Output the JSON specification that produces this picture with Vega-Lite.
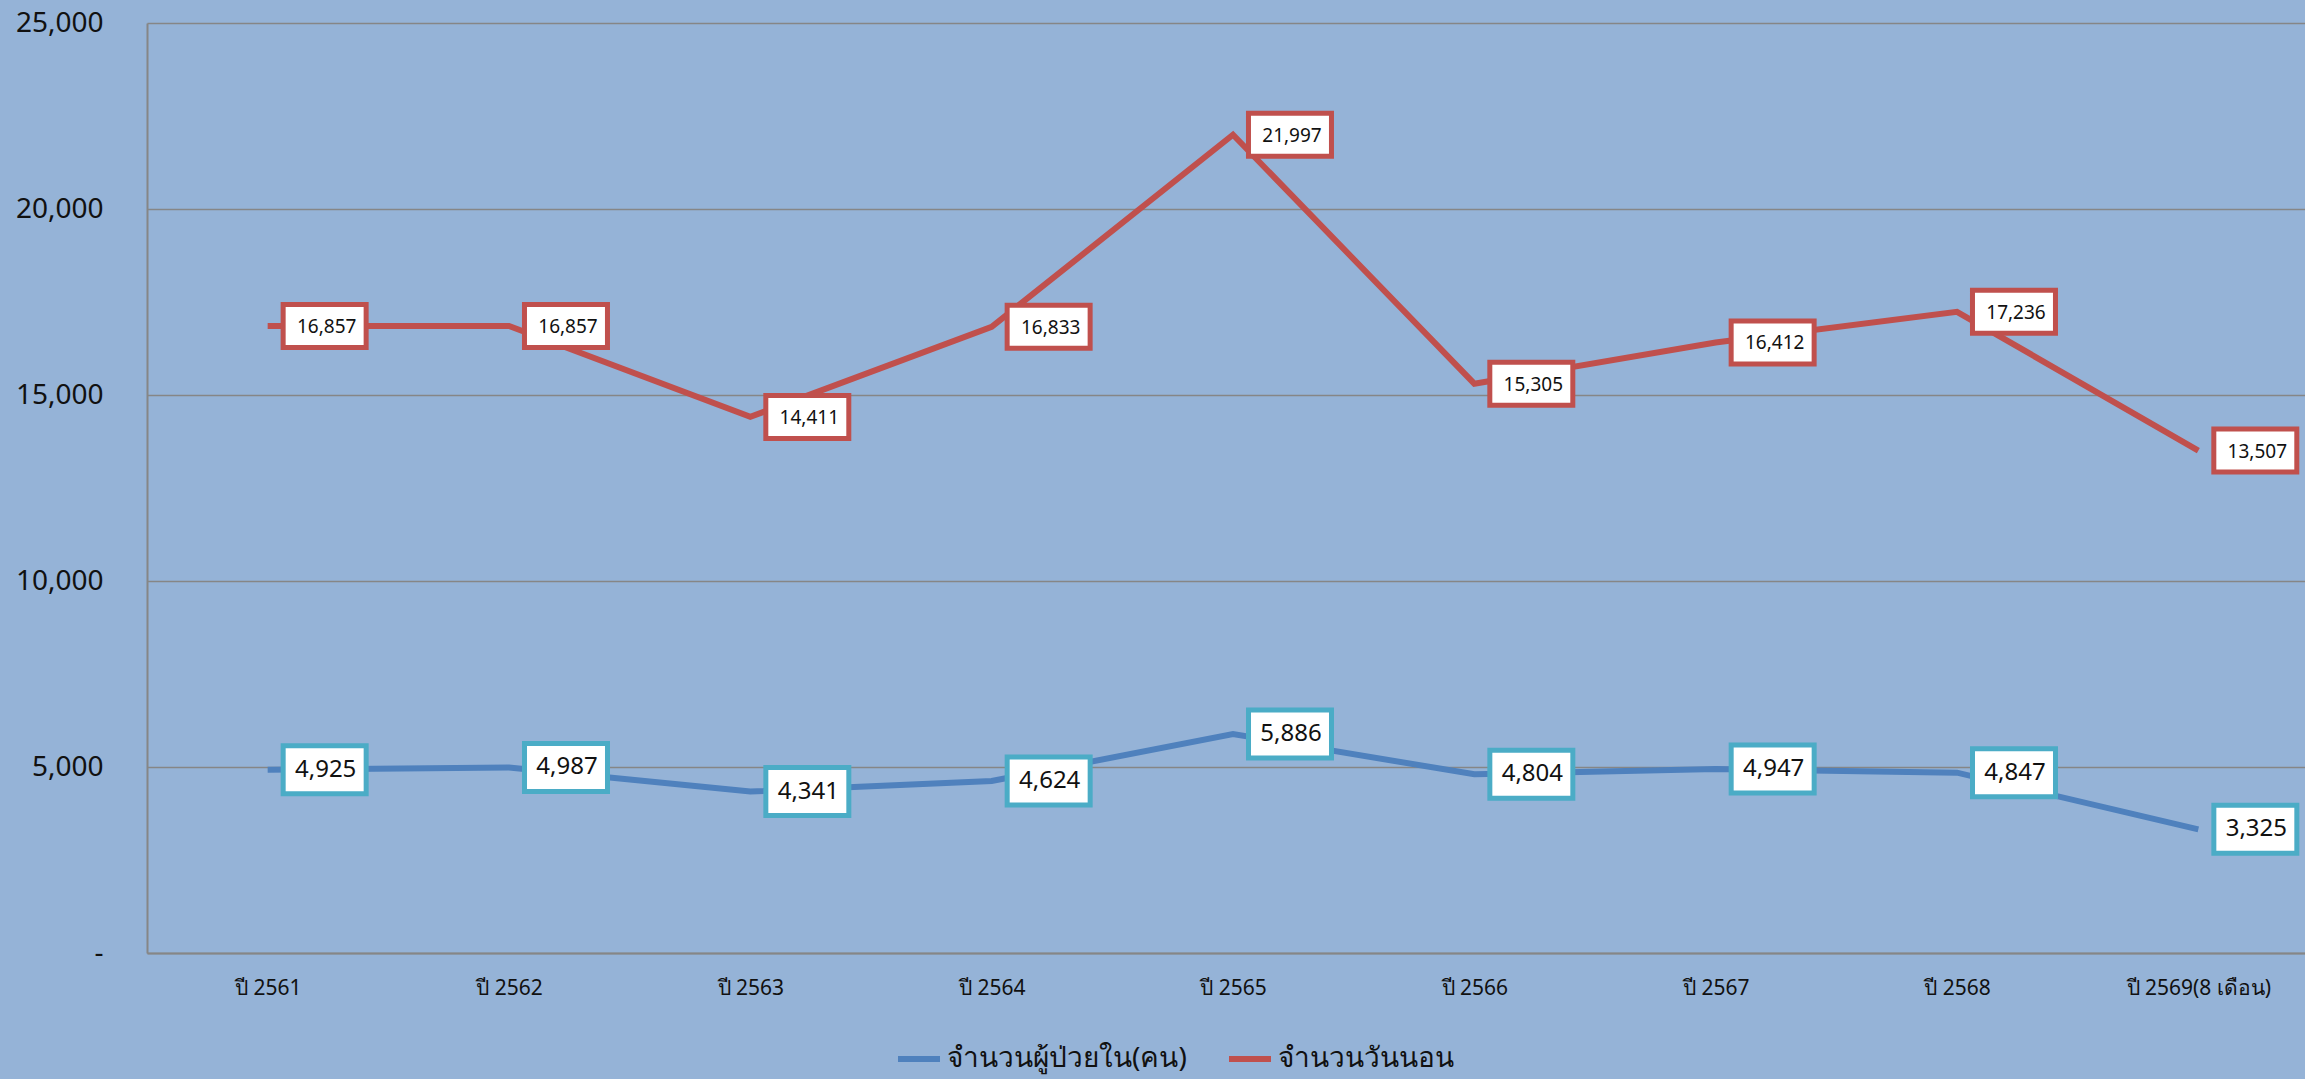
{
  "$schema": "https://vega.github.io/schema/vega-lite/v6.json",
  "autosize": {"type": "none"},
  "padding": {"left": 147, "top": 23, "right": 0, "bottom": 126},
  "width": 2158,
  "height": 930,
  "background": "#95B3D7",
  "config": {
    "view": {"stroke": null},
    "font": "Noto Sans, sans-serif",
    "axis": {"labelColor": "#111111", "domainColor": "#868686", "gridColor": "#868686", "title": null}
  },
  "data": {
    "values": [
      {"year": "ปี 2561", "series": "จำนวนผู้ป่วยใน(คน)", "value": 4925},
      {"year": "ปี 2562", "series": "จำนวนผู้ป่วยใน(คน)", "value": 4987},
      {"year": "ปี 2563", "series": "จำนวนผู้ป่วยใน(คน)", "value": 4341},
      {"year": "ปี 2564", "series": "จำนวนผู้ป่วยใน(คน)", "value": 4624},
      {"year": "ปี 2565", "series": "จำนวนผู้ป่วยใน(คน)", "value": 5886},
      {"year": "ปี 2566", "series": "จำนวนผู้ป่วยใน(คน)", "value": 4804},
      {"year": "ปี 2567", "series": "จำนวนผู้ป่วยใน(คน)", "value": 4947},
      {"year": "ปี 2568", "series": "จำนวนผู้ป่วยใน(คน)", "value": 4847},
      {"year": "ปี 2569(8 เดือน)", "series": "จำนวนผู้ป่วยใน(คน)", "value": 3325},
      {"year": "ปี 2561", "series": "จำนวนวันนอน", "value": 16857},
      {"year": "ปี 2562", "series": "จำนวนวันนอน", "value": 16857},
      {"year": "ปี 2563", "series": "จำนวนวันนอน", "value": 14411},
      {"year": "ปี 2564", "series": "จำนวนวันนอน", "value": 16833},
      {"year": "ปี 2565", "series": "จำนวนวันนอน", "value": 21997},
      {"year": "ปี 2566", "series": "จำนวนวันนอน", "value": 15305},
      {"year": "ปี 2567", "series": "จำนวนวันนอน", "value": 16412},
      {"year": "ปี 2568", "series": "จำนวนวันนอน", "value": 17236},
      {"year": "ปี 2569(8 เดือน)", "series": "จำนวนวันนอน", "value": 13507}
    ]
  },
  "encoding": {
    "x": {
      "field": "year", "type": "nominal", "sort": null,
      "scale": {"type": "point", "padding": 0.5, "range": [0, 2172]},
      "axis": {"labelAngle": 0, "ticks": false, "domainWidth": 2, "labelFontSize": 21, "labelPadding": 24, "grid": false}
    },
    "y": {
      "field": "value", "type": "quantitative",
      "scale": {"domain": [0, 25000], "nice": false},
      "axis": {"values": [0, 5000, 10000, 15000, 20000, 25000], "ticks": false, "domainWidth": 2, "gridWidth": 1.5, "labelFontSize": 28, "labelPadding": 44,
        "labelExpr": "datum.value === 0 ? '-\u00a0\u00a0\u00a0' : format(datum.value, ',')"}
    }
  },
  "layer": [
    {
      "mark": {"type": "line", "strokeWidth": 6},
      "encoding": {
        "color": {
          "field": "series", "type": "nominal",
          "scale": {"domain": ["จำนวนผู้ป่วยใน(คน)", "จำนวนวันนอน"], "range": ["#4F81BD", "#C0504D"]},
          "legend": {"orient": "none", "legendX": 748, "legendY": 1012, "direction": "horizontal", "title": null,
            "symbolType": "stroke", "symbolSize": 1764, "symbolStrokeWidth": 6, "labelFontSize": 28, "labelColor": "#111111", "columnPadding": 30, "labelOffset": 4, "labelLimit": 400}
        }
      }
    },
    {
      "transform": [{"filter": "datum.series === 'จำนวนผู้ป่วยใน(คน)'"}],
      "mark": {"type": "point", "shape": "M0.646,-1L4.104,-1L4.104,1L0.646,1Z", "size": 2304, "filled": true, "fill": "#FFFFFF", "stroke": "#4BACC6", "strokeWidth": 5, "opacity": 1, "strokeOpacity": 1, "fillOpacity": 1}
    },
    {
      "transform": [{"filter": "datum.series === 'จำนวนวันนอน'"}],
      "mark": {"type": "point", "shape": "M0.72,-1L4.58,-1L4.58,1L0.72,1Z", "size": 1849, "filled": true, "fill": "#FFFFFF", "stroke": "#C0504D", "strokeWidth": 5, "opacity": 1, "strokeOpacity": 1, "fillOpacity": 1}
    },
    {
      "transform": [{"filter": "datum.series === 'จำนวนผู้ป่วยใน(คน)'"}],
      "mark": {"type": "text", "dx": 58, "align": "center", "baseline": "middle", "fontSize": 24, "color": "#111111"},
      "encoding": {"text": {"field": "value", "type": "quantitative", "format": ","}}
    },
    {
      "transform": [{"filter": "datum.series === 'จำนวนวันนอน'"}],
      "mark": {"type": "text", "dx": 59, "dy": 1, "align": "center", "baseline": "middle", "fontSize": 19, "color": "#111111"},
      "encoding": {"text": {"field": "value", "type": "quantitative", "format": ","}}
    }
  ]
}
